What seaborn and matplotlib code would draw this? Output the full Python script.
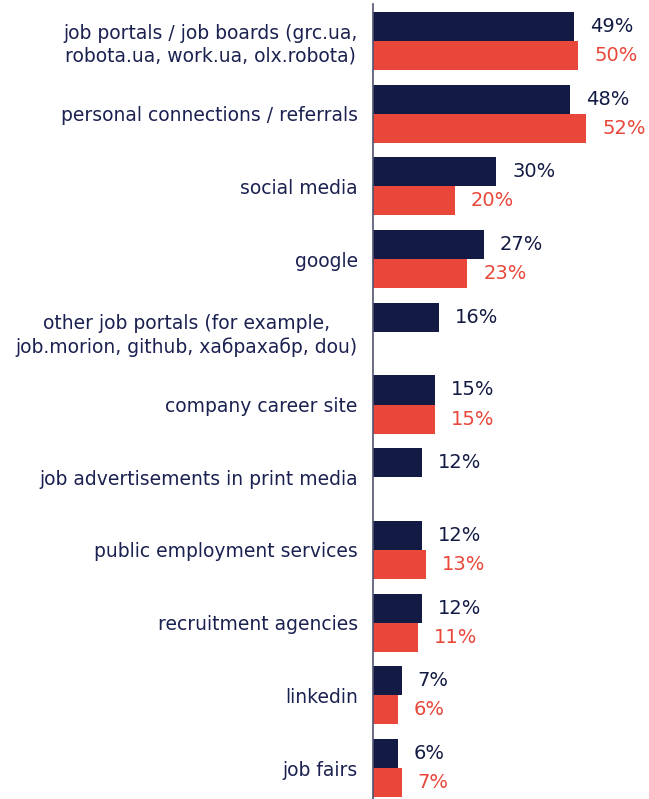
import numpy as np
import pandas as pd
import seaborn as sns
import matplotlib
matplotlib.use("Agg")
import matplotlib.pyplot as plt

# Channels used to find a job, share of respondents (%)
categories = [
    "job portals / job boards (grc.ua,\nrobota.ua, work.ua, olx.robota)",
    "personal connections / referrals",
    "social media",
    "google",
    "other job portals (for example,\njob.morion, github, хабрахабр, dou)",
    "company career site",
    "job advertisements in print media",
    "public employment services",
    "recruitment agencies",
    "linkedin",
    "job fairs",
]
series_names = ["first survey", "second survey"]
first_values = [49, 48, 30, 27, 16, 15, 12, 12, 12, 7, 6]
second_values = [50, 52, 20, 23, np.nan, 15, np.nan, 13, 11, 6, 7]

navy = "#131b45"
red = "#e8473a"
text_navy = "#1b2150"

df = pd.DataFrame({
    "channel": categories * 2,
    "share": first_values + second_values,
    "series": [series_names[0]] * len(categories) + [series_names[1]] * len(categories),
})

sns.set_theme(style="white")
plt.rcParams["font.family"] = ["DejaVu Sans"]

fig = plt.figure(figsize=(6.49, 7.99), dpi=100)
ax = fig.add_axes([373 / 649, 0, 276 / 649, 795 / 799])

sns.barplot(
    data=df, y="channel", x="share", hue="series",
    order=categories, hue_order=series_names,
    palette=[navy, red], orient="h", width=0.8,
    saturation=1, legend=False, linewidth=0, ax=ax,
)

for container, color in zip(ax.containers, [navy, red]):
    labels = [f"{v:.0f}%" for v in container.datavalues]
    ax.bar_label(container, labels=labels, padding=11.5,
                 color=color, fontsize=14)

ax.set_xlim(0, 67.3)
ax.set_ylim(10.426, -0.509)
ax.set_xlabel("")
ax.set_ylabel("")
ax.set_xticks([])
ax.tick_params(axis="y", length=0, pad=11, labelsize=13.5, labelcolor=text_navy)
for lbl in ax.get_yticklabels():
    lbl.set_multialignment("center")
    lbl.set_linespacing(1.25)

for side in ["top", "right", "bottom"]:
    ax.spines[side].set_visible(False)
ax.spines["left"].set_color("#50546e")
ax.spines["left"].set_linewidth(1.2)

fig.savefig("out.png", dpi=100, facecolor="white")
